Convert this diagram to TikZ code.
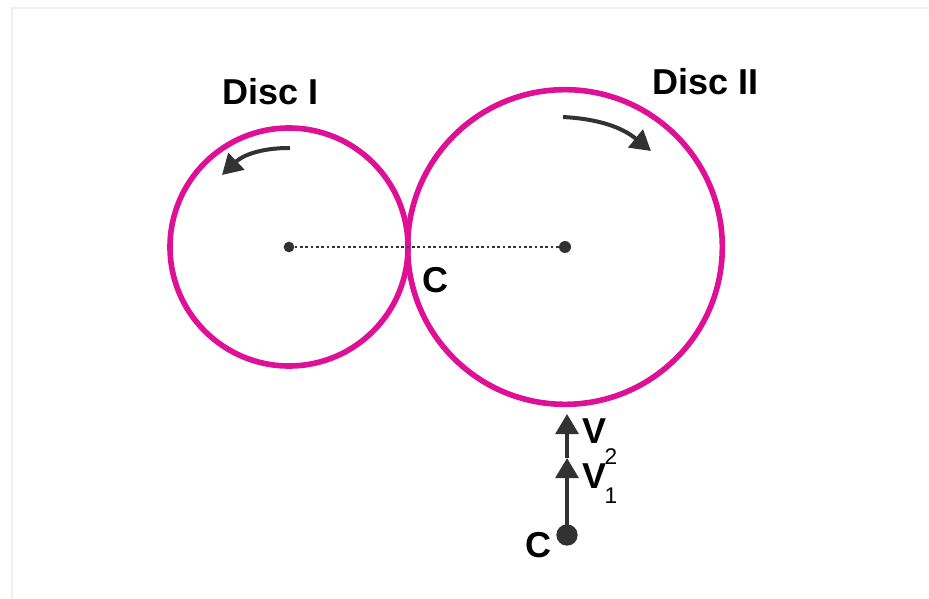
\documentclass[tikz,border=0pt]{standalone}
\usepackage{fontspec}
\setmainfont{Liberation Sans}
\usetikzlibrary{arrows.meta}
\definecolor{disc}{RGB}{222,16,150}
\definecolor{ink}{RGB}{50,50,50}
\begin{document}
\begin{tikzpicture}[x=0.75pt,y=-0.75pt,
  discline/.style={draw=disc, line width=4.2pt},
  inkarrow/.style={draw=ink, line width=3pt, -{Triangle[length=15pt,width=17pt]}},
  lbl/.style={font=\bfseries\fontsize{27}{30}\selectfont, text=black, inner sep=0pt},
  sublbl/.style={font=\fontsize{17}{20}\selectfont, text=black, inner sep=0pt},
  cdot/.style={circle, fill=ink, inner sep=0pt, minimum size=#1}]
\useasboundingbox (0,0) rectangle (929,599);
\fill[white] (0,0) rectangle (929,599);
\draw[black!6, line width=0.8pt] (12,600) -- (12,8) -- (929,8);
% centres
\node[cdot=8pt] (O1) at (289,247) {};
\node[cdot=9pt] (O2) at (565,247) {};
\draw[discline] (O1.center) circle[radius=89.25pt];
\draw[discline] (O2.center) circle[radius=118pt];
\draw[ink, line width=2pt, dash pattern=on 2pt off 2pt] (O1) -- (O2);
% labels
\node[lbl] (L1) at (271,92) {Disc I};
\node[lbl] (L2) at (706,82) {Disc II};
\node[lbl] (Ct) at (435,280) {C};
% rotation arrows
\coordinate (a1s) at (290,148);
\coordinate (a1e) at (222,175);
\draw[inkarrow] (a1s) to[bend right=22] (a1e);
\coordinate (a2s) at (563,117);
\coordinate (a2e) at (651,151);
\draw[inkarrow] (a2s) to[bend left=18] (a2e);
% velocity arrows
\node[cdot=16pt] (Cb) at (567,535) {};
\coordinate (v1) at (567,458);
\coordinate (v2) at (567,414);
\draw[inkarrow] (Cb.center) -- (v1);
\draw[inkarrow] (v1) -- (v2);
\node[lbl] (Cl) at (538,545) {C};
\node[lbl] (V2) at (595,431) {V};
\node[sublbl] (s2) at (611,457) {2};
\node[lbl] (V1) at (595,476) {V};
\node[sublbl] (s1) at (611,496) {1};
\end{tikzpicture}
\end{document}
